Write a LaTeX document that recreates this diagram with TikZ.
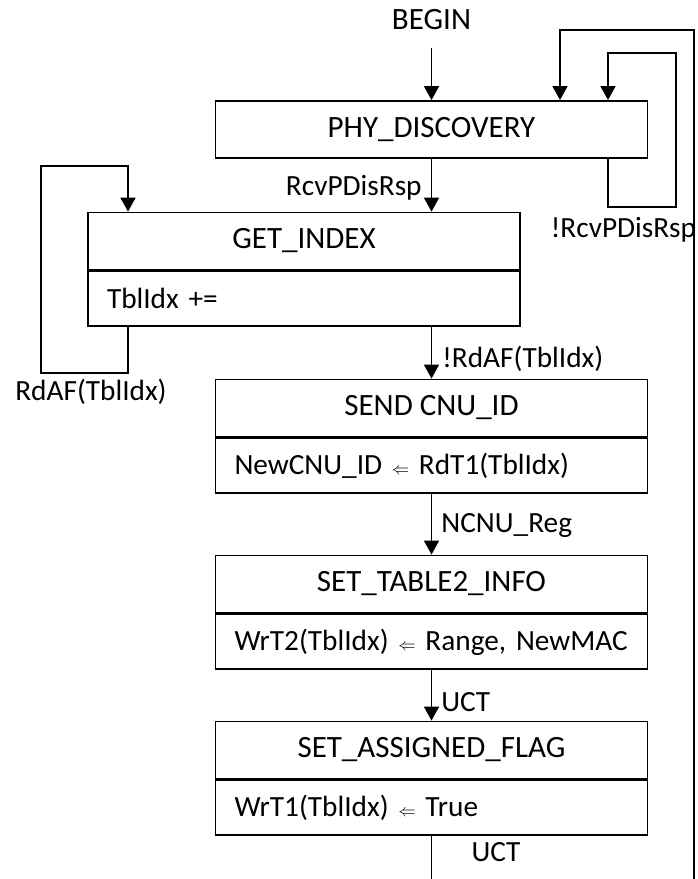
\documentclass[tikz,border=0pt]{standalone}
\usepackage{fontspec}
\setmainfont{Carlito}
\usetikzlibrary{arrows.meta}
\newcommand\larrow{{\fontsize{18pt}{21pt}\selectfont$\Leftarrow$}}
\begin{document}
\begin{tikzpicture}[x=1pt,y=-1pt, line width=1.8pt,
 every node/.style={font=\fontsize{29.3pt}{35pt}\selectfont, inner sep=0pt},
 bigtext/.style={font=\fontsize{31pt}{36pt}\selectfont},
 titlebox/.style={draw, bigtext, minimum width=432pt, minimum height=57pt},
 bodybox/.style={draw, text width=394pt, inner xsep=19pt, minimum height=55pt, align=left, anchor=north},
 arr/.style={-{Triangle[length=14pt,width=15pt]}}]
\useasboundingbox (0,0) rectangle (697,879);

\node[bigtext] (begin) at (431.5,20) {BEGIN};
\node[titlebox] (phy) at (431.5,129.5) {PHY\_DISCOVERY};
\node[titlebox] (gett) at (304,241) {GET\_INDEX};
\node[bodybox] (getb) at (gett.south) {\mbox{TblIdx +=}};
\node[titlebox] (sendt) at (431.5,408) {SEND CNU\_ID};
\node[bodybox] (sendb) at (sendt.south) {\mbox{NewCNU\_ID \larrow{} RdT1(TblIdx)}};
\node[titlebox] (set2t) at (431.5,584) {SET\_TABLE2\_INFO};
\node[bodybox] (set2b) at (set2t.south) {\mbox{WrT2(TblIdx) \larrow{} Range, NewMAC}};
\node[titlebox] (setat) at (431.5,750) {SET\_ASSIGNED\_FLAG};
\node[bodybox] (setab) at (setat.south) {\mbox{WrT1(TblIdx) \larrow{} True}};

\coordinate (oute) at (694,879);
\coordinate (ol) at (560,30);
\coordinate (il1) at (608,207);
\coordinate (il2) at (676,53);
\coordinate (gl1) at (128,373);
\coordinate (gl2) at (41,166);
\coordinate (endb) at (431.5,879);

\node[anchor=west] (nrcv) at (550,230) {!RcvPDisRsp};
\draw[arr, shorten <=17pt] (begin) -- (phy);
\draw[arr] (oute) |- (ol) -- (ol |- phy.north);
\draw[arr] (il1 |- phy.south) -- (il1) -| (il2) -| (il1 |- phy.north);

\draw[arr] (phy.south) -- node[anchor=east, xshift=-9pt, yshift=-3pt] (rcv) {RcvPDisRsp} (phy.south |- gett.north);

\draw[arr] (gl1 |- getb.south) -- (gl1) -| (gl2) -| (gl1 |- gett.north);
\node (rdaf) at (91,392) {RdAF(TblIdx)};

\draw[arr] (getb.south -| sendt.north) -- node[anchor=west, xshift=10pt, yshift=-6pt] (nrdaf) {!RdAF(TblIdx)} (sendt.north);
\draw[arr] (sendb.south) -- node[anchor=west, xshift=9pt, yshift=-1pt] (ncnu) {NCNU\_Reg} (set2t.north);
\draw[arr] (set2b.south) -- node[anchor=west, xshift=9pt, yshift=-7pt] (uct1) {UCT} (setat.north);
\draw (setab.south) -- (endb);
\node (uct2) at (496,852) {UCT};
\end{tikzpicture}
\end{document}
